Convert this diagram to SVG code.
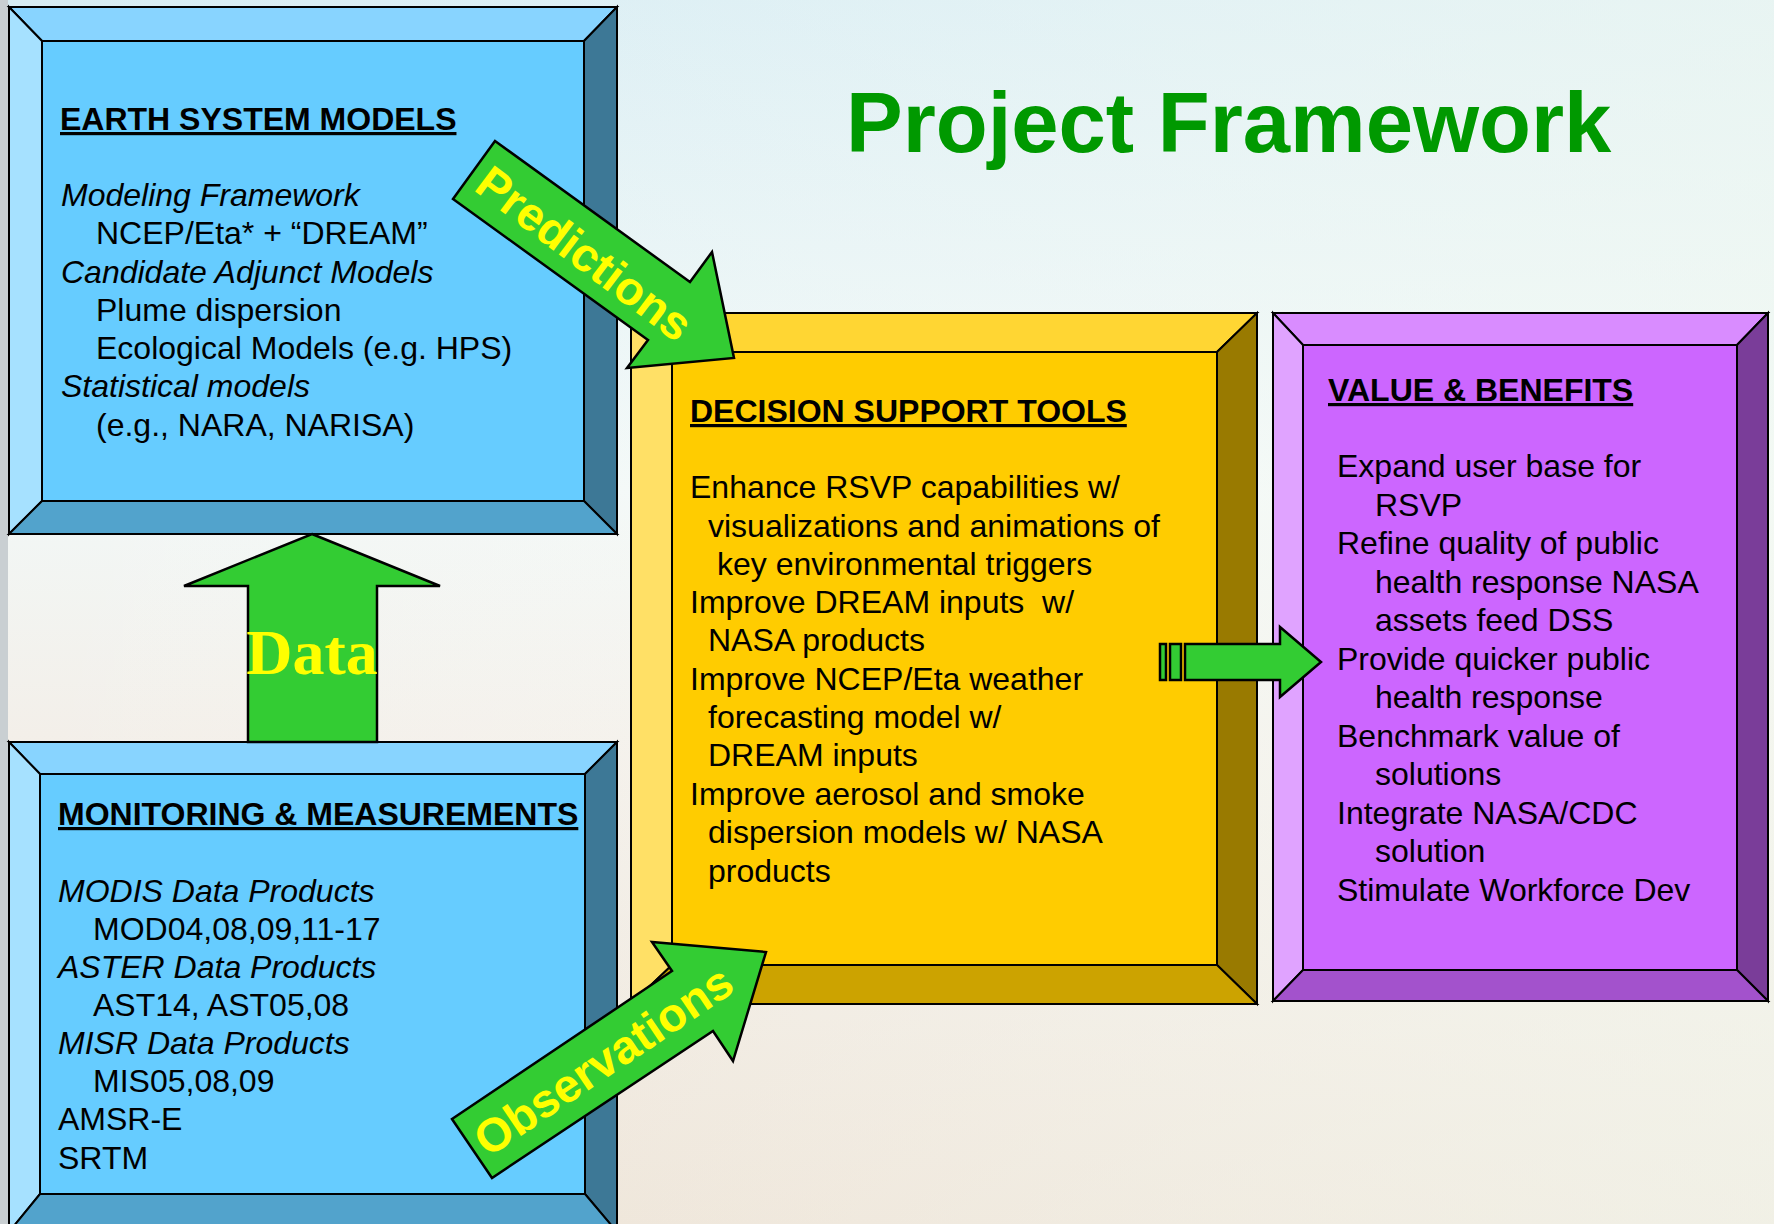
<svg xmlns="http://www.w3.org/2000/svg" width="1774" height="1224" viewBox="0 0 1774 1224">
<defs>
<linearGradient id="bg" x1="0" y1="0" x2="0" y2="1">
<stop offset="0" stop-color="#D6ECF3"/>
<stop offset="0.4" stop-color="#F2F8F7"/>
<stop offset="0.6" stop-color="#F3EFE9"/>
<stop offset="1" stop-color="#ECE1D3"/>
</linearGradient>
<linearGradient id="bg2" x1="0" y1="0" x2="1" y2="0">
<stop offset="0" stop-color="#FFFFFF" stop-opacity="0"/>
<stop offset="1" stop-color="#F4FAF2" stop-opacity="0.6"/>
</linearGradient>
</defs>
<style>
.edge{stroke:#000;stroke-width:2;stroke-linejoin:miter}
.t{font-family:"Liberation Sans",Arial,sans-serif;font-size:32px;fill:#000}
.h{font-weight:bold;text-decoration:underline}
.i{font-style:italic}
.arrow{fill:#33CC33;stroke:#000;stroke-width:2.5;stroke-linejoin:miter}
.lbl{font-family:"Liberation Sans",Arial,sans-serif;font-weight:bold;font-size:47px;fill:#FFFF00}
</style>
<rect x="0" y="0" width="1774" height="1224" fill="url(#bg)"/>
<rect x="0" y="0" width="1774" height="1224" fill="url(#bg2)"/>
<rect x="0" y="0" width="8" height="1224" fill="#C9CFD2"/>

<g id="title">
<text x="846" y="152" font-family="'Liberation Sans',Arial,sans-serif" font-weight="bold" font-size="85" fill="#009900">Project Framework</text>
</g>

<g id="node-esm">
<polygon class="edge" points="9,7 617,7 584,41 42,41" fill="#88D4FF"/>
<polygon class="edge" points="9,7 42,41 42,501 9,534" fill="#A6E1FF"/>
<polygon class="edge" points="617,7 617,534 584,501 584,41" fill="#3D7896"/>
<polygon class="edge" points="9,534 42,501 584,501 617,534" fill="#52A3CC"/>
<rect class="edge" x="42" y="41" width="542" height="460" fill="#66CCFF"/>
<text class="t h" x="60" y="130">EARTH SYSTEM MODELS</text>
<text class="t i" x="61" y="206">Modeling Framework</text>
<text class="t" x="96" y="244">NCEP/Eta* + “DREAM”</text>
<text class="t i" x="61" y="283">Candidate Adjunct Models</text>
<text class="t" x="96" y="321">Plume dispersion</text>
<text class="t" x="96" y="359">Ecological Models (e.g. HPS)</text>
<text class="t i" x="61" y="397">Statistical models</text>
<text class="t" x="96" y="436">(e.g., NARA, NARISA)</text>
</g>

<g id="node-mm">
<polygon class="edge" points="9,742 617,742 585,774 40,774" fill="#88D4FF"/>
<polygon class="edge" points="9,742 40,774 40,1194 9,1232" fill="#A6E1FF"/>
<polygon class="edge" points="617,742 617,1232 585,1194 585,774" fill="#3D7896"/>
<polygon class="edge" points="9,1232 40,1194 585,1194 617,1232" fill="#52A3CC"/>
<rect class="edge" x="40" y="774" width="545" height="420" fill="#66CCFF"/>
<text class="t h" x="58" y="825">MONITORING &amp; MEASUREMENTS</text>
<text class="t i" x="58" y="902">MODIS Data Products</text>
<text class="t" x="93" y="940">MOD04,08,09,11-17</text>
<text class="t i" x="58" y="978">ASTER Data Products</text>
<text class="t" x="93" y="1016">AST14, AST05,08</text>
<text class="t i" x="58" y="1054">MISR Data Products</text>
<text class="t" x="93" y="1092">MIS05,08,09</text>
<text class="t" x="58" y="1130">AMSR-E</text>
<text class="t" x="58" y="1169">SRTM</text>
</g>

<g id="node-dst">
<polygon class="edge" points="631,313 1257,313 1217,352 672,352" fill="#FFD633"/>
<polygon class="edge" points="631,313 672,352 672,965 631,1004" fill="#FFE066"/>
<polygon class="edge" points="1257,313 1257,1004 1217,965 1217,352" fill="#997A00"/>
<polygon class="edge" points="631,1004 672,965 1217,965 1257,1004" fill="#CCA300"/>
<rect class="edge" x="672" y="352" width="545" height="613" fill="#FFCC00"/>
<text class="t h" x="690" y="422">DECISION SUPPORT TOOLS</text>
<text class="t" x="690" y="498">Enhance RSVP capabilities w/</text>
<text class="t" x="708" y="537">visualizations and animations of</text>
<text class="t" x="717" y="575">key environmental triggers</text>
<text class="t" x="690" y="613" xml:space="preserve">Improve DREAM inputs  w/</text>
<text class="t" x="708" y="651">NASA products</text>
<text class="t" x="690" y="690">Improve NCEP/Eta weather</text>
<text class="t" x="708" y="728">forecasting model w/</text>
<text class="t" x="708" y="766">DREAM inputs</text>
<text class="t" x="690" y="805">Improve aerosol and smoke</text>
<text class="t" x="708" y="843">dispersion models w/ NASA</text>
<text class="t" x="708" y="882">products</text>
</g>

<g id="node-vb">
<polygon class="edge" points="1273,313 1768,313 1737,345 1303,345" fill="#D98CFF"/>
<polygon class="edge" points="1273,313 1303,345 1303,970 1273,1001" fill="#E0A3FF"/>
<polygon class="edge" points="1768,313 1768,1001 1737,970 1737,345" fill="#7A3D99"/>
<polygon class="edge" points="1273,1001 1303,970 1737,970 1768,1001" fill="#A352CC"/>
<rect class="edge" x="1303" y="345" width="434" height="625" fill="#CC66FF"/>
<text class="t h" x="1328" y="401">VALUE &amp; BENEFITS</text>
<text class="t" x="1337" y="477">Expand user base for</text>
<text class="t" x="1375" y="516">RSVP</text>
<text class="t" x="1337" y="554">Refine quality of public</text>
<text class="t" x="1375" y="593">health response NASA</text>
<text class="t" x="1375" y="631">assets feed DSS</text>
<text class="t" x="1337" y="670">Provide quicker public</text>
<text class="t" x="1375" y="708">health response</text>
<text class="t" x="1337" y="747">Benchmark value of</text>
<text class="t" x="1375" y="785">solutions</text>
<text class="t" x="1337" y="824">Integrate NASA/CDC</text>
<text class="t" x="1375" y="862">solution</text>
<text class="t" x="1337" y="901">Stimulate Workforce Dev</text>
</g>

<g id="connectors">
<g id="conn-data">
<polygon class="arrow" points="312,534 440,586 377,586 377,742 248,742 248,586 184,586"/>
<text x="312" y="674" text-anchor="middle" font-family="'Liberation Serif','Times New Roman',serif" font-weight="bold" font-size="64" fill="#FFFF00">Data</text>
</g>
<g id="conn-predictions">
<polygon class="arrow" points="495,141 690,282 712,252 734,358 627,368 648,340 453,199"/>
<text class="lbl" transform="translate(585,253) rotate(37)" x="0" y="17" text-anchor="middle">Predictions</text>
</g>
<g id="conn-observations">
<polygon class="arrow" points="452,1119 672,971 652,942 766,952 733,1061 713,1031 492,1178"/>
<text class="lbl" transform="translate(603,1060) rotate(-34)" x="0" y="17" text-anchor="middle">Observations</text>
</g>
<g id="conn-dst-vb">
<rect class="arrow" x="1160" y="644" width="6" height="36"/>
<rect class="arrow" x="1170" y="644" width="11" height="36"/>
<polygon class="arrow" points="1185,644 1280,644 1280,627 1321,662 1280,697 1280,680 1185,680"/>
</g>
</g>
</svg>
